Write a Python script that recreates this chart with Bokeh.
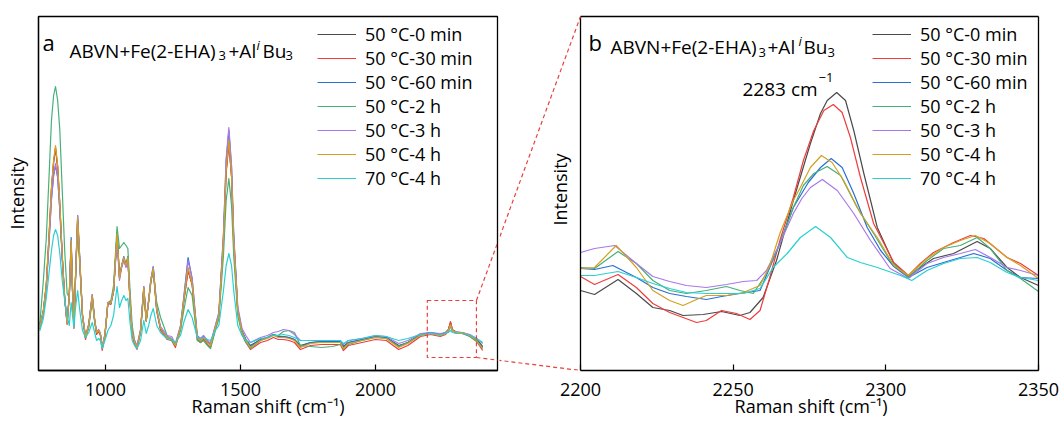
import math
from bokeh.plotting import figure
from bokeh.models import (Range1d, FixedTicker, Legend, LegendItem, Label, Arrow, BoxAnnotation,
                          LinearAxis, Span)
from bokeh.layouts import row
from bokeh.embed import file_html
from bokeh.resources import INLINE

FONT = "Open Sans"

SERIES = ["50 °C-0 min", "50 °C-30 min", "50 °C-60 min", "50 °C-2 h", "50 °C-3 h", "50 °C-4 h", "70 °C-4 h"]
COLORS = ["#4a4a4a", "#f03c3c", "#2a6fd6", "#45b078", "#a978e8", "#d4a020", "#2ad0d0"]
X_LABEL = "Raman shift (cm⁻¹)"

# ---------------- left panel: full spectra ----------------
L_X = [750, 757, 770, 781, 792, 800, 808, 815, 823, 831, 840, 849, 858, 866, 873, 878, 883, 890, 897, 905,
       915, 926, 938, 951, 960, 967, 975, 981, 988, 998, 1009, 1020, 1030, 1043, 1052, 1060, 1068, 1076, 1083, 1091,
       1099, 1108, 1117, 1130, 1142, 1151, 1160, 1168, 1177, 1190, 1204, 1215, 1228, 1245, 1259, 1278, 1290, 1306, 1321, 1340,
       1352, 1363, 1378, 1389, 1407, 1420, 1437, 1447, 1457, 1467, 1475, 1490, 1506, 1520, 1537, 1574, 1600, 1622, 1640, 1659,
       1680, 1700, 1722, 1760, 1800, 1840, 1870, 1881, 1900, 1950, 2000, 2040, 2086, 2120, 2167, 2204, 2240, 2260, 2270, 2278,
       2285, 2300, 2321, 2350, 2375, 2397]

L_ORANGE = [45, 43, 60, 87, 140, 183, 210, 225, 205, 167, 115, 73, 47, 75, 130, 80, 43, 100, 153, 110,
            55, 33, 45, 75, 50, 38, 40, 37, 22, 35, 68, 67, 80, 137, 93, 105, 113, 105, 113, 70,
            37, 28, 23, 40, 83, 50, 70, 90, 102, 60, 42, 38, 33, 32, 25, 43, 70, 103, 87, 33,
            30, 33, 28, 25, 43, 55, 130, 200, 230, 195, 130, 60, 38, 30, 23, 30, 32, 35, 33, 33,
            32, 30, 23, 27, 28, 28, 28, 22, 27, 30, 33, 32, 23, 27, 35, 37, 35, 37, 40, 46,
            40, 38, 38, 35, 30, 22]
L_BLACK = [46, 44, 60, 86, 138, 181, 208, 222, 203, 165, 114, 73, 48, 75, 128, 80, 44, 99, 150, 108,
           55, 34, 45, 74, 50, 38, 40, 37, 23, 35, 67, 67, 79, 135, 93, 104, 112, 104, 112, 70,
           37, 28, 24, 40, 82, 50, 70, 89, 101, 60, 42, 38, 33, 32, 26, 43, 69, 100, 86, 33,
           30, 33, 28, 26, 43, 55, 129, 198, 228, 194, 129, 60, 39, 31, 25, 31, 33, 36, 34, 34,
           33, 31, 25, 28, 29, 29, 29, 24, 28, 31, 34, 33, 25, 28, 36, 38, 36, 38, 41, 48,
           41, 38, 38, 35, 31, 24]
L_RED = [44, 42, 59, 86, 139, 182, 209, 223, 204, 166, 114, 72, 46, 74, 128, 79, 42, 99, 150, 108,
         54, 31, 44, 74, 49, 36, 39, 35, 20, 34, 67, 66, 79, 136, 92, 104, 112, 104, 112, 69,
         35, 26, 21, 39, 82, 49, 69, 89, 101, 59, 40, 36, 31, 30, 23, 42, 69, 100, 86, 31,
         28, 31, 26, 23, 42, 54, 129, 199, 226, 194, 129, 59, 36, 28, 21, 28, 30, 33, 31, 31,
         30, 28, 21, 25, 26, 26, 26, 20, 25, 28, 31, 30, 21, 25, 34, 36, 34, 36, 40, 49,
         40, 37, 37, 34, 29, 20]
L_BLUE = [45, 43, 58, 84, 134, 172, 195, 205, 193, 160, 112, 72, 47, 76, 133, 81, 44, 101, 155, 111,
          55, 33, 46, 76, 51, 38, 40, 37, 22, 35, 68, 67, 80, 138, 94, 105, 114, 106, 114, 71,
          37, 28, 23, 40, 84, 50, 70, 91, 104, 61, 42, 38, 33, 32, 25, 44, 73, 113, 92, 34,
          31, 34, 29, 26, 44, 57, 135, 209, 240, 203, 135, 62, 39, 31, 24, 31, 33, 36, 34, 34,
          33, 31, 24, 28, 29, 29, 29, 23, 28, 31, 34, 33, 24, 28, 36, 38, 36, 38, 40, 45,
          40, 38, 38, 35, 30, 23]
L_GREEN = [48, 47, 90, 133, 200, 250, 275, 284, 270, 240, 180, 120, 77, 73, 120, 85, 50, 100, 143, 105,
           55, 33, 43, 70, 48, 38, 40, 37, 22, 37, 68, 70, 85, 144, 122, 125, 128, 125, 122, 80,
           45, 30, 23, 38, 78, 50, 68, 88, 100, 68, 53, 45, 35, 30, 25, 40, 60, 83, 75, 30,
           28, 30, 25, 22, 40, 52, 115, 170, 192, 165, 115, 55, 36, 28, 22, 30, 33, 36, 35, 39,
           40, 38, 25, 24, 23, 24, 26, 22, 26, 30, 33, 32, 24, 28, 35, 37, 35, 37, 39, 44,
           40, 38, 38, 34, 29, 22]
L_PURPLE = [46, 44, 57, 82, 132, 170, 195, 207, 193, 160, 112, 72, 48, 74, 128, 80, 45, 102, 155, 112,
            56, 35, 46, 76, 51, 39, 41, 38, 24, 36, 68, 68, 80, 130, 90, 103, 110, 103, 110, 70,
            38, 30, 25, 41, 84, 52, 71, 91, 104, 62, 44, 40, 35, 34, 27, 45, 72, 110, 92, 35,
            32, 35, 30, 27, 45, 58, 137, 212, 243, 205, 137, 64, 42, 35, 28, 33, 35, 38, 39, 41,
            40, 36, 30, 30, 30, 30, 30, 26, 30, 32, 35, 34, 27, 30, 37, 38, 37, 38, 40, 44,
            40, 39, 38, 36, 32, 27]
L_CYAN = [40, 40, 52, 73, 100, 120, 135, 141, 135, 117, 90, 70, 55, 45, 68, 55, 43, 65, 80, 60,
          40, 33, 38, 48, 38, 30, 32, 30, 22, 30, 40, 45, 55, 84, 63, 70, 75, 70, 72, 48,
          30, 25, 22, 30, 50, 37, 45, 55, 62, 45, 38, 35, 32, 31, 28, 35, 48, 61, 53, 33,
          32, 33, 31, 30, 40, 45, 80, 105, 117, 105, 80, 45, 35, 30, 28, 32, 33, 35, 35, 36,
          35, 33, 30, 30, 30, 30, 30, 27, 30, 32, 35, 34, 30, 32, 36, 37, 36, 37, 38, 40,
          38, 37, 37, 35, 32, 28]

L_SERIES = [L_BLACK, L_RED, L_BLUE, L_GREEN, L_PURPLE, L_ORANGE, L_CYAN]

# ---------------- right panel: zoom 2200-2350 ----------------
R_BLACK_X = [2200, 2204.6, 2212.3, 2218.3, 2223.7, 2229.2, 2233.6, 2240.2, 2246.2, 2252.2, 2255.5, 2259.8, 2264.2,
             2269.7, 2275.3, 2278.6, 2280.8, 2283.9, 2286.8, 2289.5, 2292.8, 2297.2, 2302.6, 2307.4, 2311.3, 2315.6,
             2322.2, 2329.9, 2334.2, 2339.7, 2344.1, 2350]
R_BLACK_Y = [80, 76, 91, 77, 63, 60, 55, 56, 59, 55, 58, 73, 110, 170, 227, 257, 270, 278, 270, 240, 197, 143, 107,
             94, 103, 112, 117, 129, 122, 103, 93, 85]
R_RED_X = [2200, 2204.6, 2212.3, 2218.3, 2223.7, 2229.2, 2233.6, 2238, 2241.2, 2246.2, 2251.1, 2255.5, 2258.8, 2262,
           2265.3, 2269.7, 2273, 2276.4, 2279.7, 2282.8, 2285.7, 2288.4, 2291.7, 2296, 2302.6, 2307.4, 2311.3, 2315.6,
           2322.2, 2327.7, 2332.1, 2339.7, 2344.1, 2350]
R_RED_Y = [94, 86, 96, 83, 67, 58, 53, 48, 50, 60, 57, 51, 60, 93, 130, 173, 210, 240, 260, 266, 258, 233, 193, 147,
           108, 95, 107, 118, 128, 135, 132, 113, 107, 95]
R_BLUE_X = [2200, 2204.6, 2210.6, 2218.3, 2223.7, 2229.2, 2234.7, 2241.2, 2246.2, 2252.2, 2258.8, 2262, 2265.3, 2269.7,
            2274.6, 2278.6, 2282.1, 2285.7, 2289.5, 2293.9, 2298.3, 2302.6, 2307.4, 2313.5, 2318.9, 2324.4, 2328.8,
            2334.2, 2339.7, 2344.1, 2350]
R_BLUE_Y = [102, 101, 105, 93, 83, 77, 74, 71, 74, 77, 80, 103, 127, 163, 188, 203, 212, 203, 177, 143, 120, 104, 93,
            103, 108, 113, 117, 112, 100, 93, 92]
R_GREEN_X = [2200, 2204.6, 2212.3, 2218.3, 2223.7, 2229.2, 2234.7, 2241.2, 2247.8, 2252.2, 2256.6, 2260.9, 2265.3,
             2269.7, 2273, 2276.4, 2280.8, 2285.2, 2290.6, 2296, 2301.4, 2307.4, 2313.5, 2318.9, 2324.4, 2329.9,
             2334.2, 2339.7, 2344.1, 2350]
R_GREEN_Y = [103, 102, 119, 107, 90, 80, 77, 80, 84, 80, 77, 97, 127, 163, 185, 197, 204, 195, 163, 137, 110, 93, 110,
             122, 125, 133, 122, 100, 92, 79]
R_PURPLE_X = [2200, 2204.6, 2211.2, 2218.3, 2223.7, 2229.2, 2234.7, 2241.2, 2247.8, 2253.3, 2257.7, 2260.9, 2265.3,
              2269.7, 2272.5, 2275.3, 2279.2, 2284.1, 2289.5, 2295, 2301.4, 2307.4, 2313.5, 2318.9, 2324.4, 2329.3,
              2334.2, 2339.7, 2344.1, 2350]
R_PURPLE_Y = [118, 122, 125, 107, 94, 89, 85, 83, 86, 89, 90, 100, 127, 157, 172, 183, 191, 180, 157, 130, 102, 92,
              107, 113, 117, 121, 113, 103, 100, 95]
R_ORANGE_X = [2200, 2204.6, 2211.7, 2218.3, 2223.7, 2229.2, 2233.6, 2238, 2241.2, 2247.8, 2253.3, 2258.8, 2262, 2265.3,
              2269.7, 2272, 2275.3, 2278.9, 2282.4, 2286.2, 2291.7, 2297.2, 2302.6, 2307.4, 2313.5, 2318.9, 2324.4,
              2329.3, 2334.2, 2339.7, 2344.1, 2350]
R_ORANGE_Y = [102, 103, 125, 103, 80, 70, 65, 71, 75, 75, 78, 85, 105, 137, 170, 183, 203, 215, 208, 190, 157, 133,
              105, 95, 112, 123, 130, 135, 127, 113, 105, 92]
R_CYAN_X = [2200, 2204.6, 2212.3, 2218.3, 2223.7, 2229.2, 2234.7, 2241.2, 2247.8, 2253.3, 2258.8, 2263.1, 2267.7,
            2272, 2277, 2281.9, 2287.4, 2291.7, 2297.2, 2304.8, 2308.5, 2313.5, 2318.9, 2324.4, 2329.9, 2334.2,
            2339.7, 2344.1, 2350]
R_CYAN_Y = [95, 95, 99, 93, 87, 82, 78, 77, 77, 77, 82, 103, 117, 133, 144, 133, 113, 108, 103, 95, 90, 100, 107, 112,
            113, 108, 98, 93, 90]

R_SERIES = [(R_BLACK_X, R_BLACK_Y), (R_RED_X, R_RED_Y), (R_BLUE_X, R_BLUE_Y), (R_GREEN_X, R_GREEN_Y),
            (R_PURPLE_X, R_PURPLE_Y), (R_ORANGE_X, R_ORANGE_Y), (R_CYAN_X, R_CYAN_Y)]

L_TICKS = [1000, 1500, 2000]
R_TICKS = [2200, 2250, 2300, 2350]
L_XRANGE = (752, 2452)
R_PANEL = (2200, 2350)
Y_RANGE = (0, 354)
ZOOM_BOX = (2192, 2374, 13, 70)   # left, right, bottom, top (data units of panel a)
PEAK_LABEL = "2283 cm"

# ---------- layout geometry (page pixels; Bokeh's page has no body margin) ----------
H = 432
TOP = 16
FRAME_H = 354
BOTTOM = H - TOP - FRAME_H
LA_LEFT, LA_FRAME_W, LA_RIGHT = 38, 459, 2
B_FIG_X0 = LA_LEFT + LA_FRAME_W + LA_RIGHT          # page x where figure b starts (= its frame start)
B_PANEL_PX = (580, 1038)                            # page x of panel b's visible box
B_RIGHT = 21
B_W = B_PANEL_PX[1] - B_FIG_X0 + B_RIGHT
B_PPU = (B_PANEL_PX[1] - B_PANEL_PX[0]) / (R_PANEL[1] - R_PANEL[0])
R_XRANGE = (R_PANEL[0] - (B_PANEL_PX[0] - B_FIG_X0) / B_PPU, R_PANEL[1])
A_X0 = LA_LEFT
A_PPU = LA_FRAME_W / (L_XRANGE[1] - L_XRANGE[0])
# panel b's axis title is centred on the whole frame of figure b; non-breaking spaces in front of it
# move the visible words to the centre of panel b's box
PAD = "\u00a0" * 18
RED = "#e8413c"


def a_data(px):
    return L_XRANGE[0] + (px - A_X0) / A_PPU


def b_data(px):
    return R_XRANGE[0] + (px - B_FIG_X0) / B_PPU


def style_axis(ax):
    ax.axis_line_color = "black"
    ax.axis_line_width = 1.3
    ax.major_tick_in = 6
    ax.major_tick_out = 0
    ax.minor_tick_line_color = None
    ax.major_tick_line_color = "black"
    ax.major_tick_line_width = 1.2
    ax.major_label_text_font = FONT
    ax.major_label_text_font_size = "18px"
    ax.major_label_text_color = "black"
    ax.axis_label_text_font = FONT
    ax.axis_label_text_font_size = "18px"
    ax.axis_label_text_font_style = "normal"
    ax.axis_label_text_color = "black"


def base_style(p):
    p.xgrid.visible = False
    p.ygrid.visible = False
    p.background_fill_color = "white"
    p.border_fill_color = "white"
    p.xaxis.major_label_standoff = 12
    p.xaxis.axis_label_standoff = -5


def add_legend(p, renderers, x):
    items = [LegendItem(label=s, renderers=[r]) for s, r in zip(SERIES, renderers)]
    lg = Legend(items=items, location=(x, 180), glyph_width=39, glyph_height=20, label_height=20,
                label_standoff=9, spacing=0, padding=0, margin=0, border_line_alpha=0,
                background_fill_alpha=0, label_text_font=FONT, label_text_font_size="18px",
                label_text_color="black")
    p.add_layout(lg)


def title(p, xs, ys, letter):
    frags = [(letter, xs[0], ys[0], "22px", "normal"),
             ("ABVN+Fe(2-EHA)", xs[1], ys[1], "19px", "normal"),
             ("3", xs[2], ys[2], "13px", "normal"),
             ("+Al", xs[3], ys[1], "19px", "normal"),
             ("i", xs[4], ys[3], "13px", "italic"),
             ("Bu", xs[5], ys[1], "19px", "normal"),
             ("3", xs[6], ys[2], "13px", "normal")]
    for t, x, y, fs, st in frags:
        p.add_layout(Label(x=x, y=y, text=t, text_font=FONT, text_font_size=fs, text_font_style=st,
                           text_color="black", text_baseline="alphabetic", text_align="left"))


# ---------------- panel a ----------------
pa = figure(width=LA_LEFT + LA_FRAME_W + LA_RIGHT, height=H, x_range=Range1d(*L_XRANGE),
            y_range=Range1d(*Y_RANGE), output_backend="svg", toolbar_location=None,
            min_border_left=LA_LEFT, min_border_right=LA_RIGHT, min_border_top=TOP, min_border_bottom=BOTTOM)
base_style(pa)
pa.xaxis.axis_label = X_LABEL
pa.xaxis.ticker = FixedTicker(ticks=L_TICKS)
pa.yaxis.ticker = FixedTicker(ticks=[])
style_axis(pa.xaxis[0])
style_axis(pa.yaxis[0])
pa.yaxis.axis_label = "Intensity"
pa.yaxis.axis_label_standoff = 10
pa.outline_line_color = "black"
pa.outline_line_width = 1.3
ra = [pa.line(L_X, ys, line_color=c, line_width=1.2, line_join="round") for ys, c in zip(L_SERIES, COLORS)]
add_legend(pa, ra, 317 - A_X0)
title(pa, [a_data(px) for px in (42, 69, 218, 228, 256, 262, 285)], [329, 319.3, 315, 326], "a")
pa.add_layout(BoxAnnotation(left=ZOOM_BOX[0], right=ZOOM_BOX[1], bottom=ZOOM_BOX[2], top=ZOOM_BOX[3],
                            fill_alpha=0, line_color=RED, line_alpha=1.0, line_dash="4 3", line_width=1.2))

# connectors: zoom box right corners -> panel b box left corners
box_px = A_X0 + (ZOOM_BOX[1] - L_XRANGE[0]) * A_PPU
for yb, yt in ((ZOOM_BOX[3], Y_RANGE[1]), (ZOOM_BOX[2], Y_RANGE[0])):
    px_end = A_X0 + LA_FRAME_W + 2
    f = (px_end - box_px) / (B_PANEL_PX[0] - box_px)
    pa.add_layout(Arrow(end=None, x_start=ZOOM_BOX[1], y_start=yb, x_end=a_data(px_end),
                        y_end=yb + (yt - yb) * f, line_color=RED, line_dash="4 3", line_width=1.2))

# ---------------- panel b ----------------
pb = figure(width=B_W, height=H, x_range=Range1d(*R_XRANGE), y_range=Range1d(*Y_RANGE),
            output_backend="svg", toolbar_location=None,
            min_border_left=0, min_border_right=B_RIGHT, min_border_top=TOP, min_border_bottom=BOTTOM)
base_style(pb)
pb.xaxis.axis_label = PAD + X_LABEL
pb.xaxis.ticker = FixedTicker(ticks=R_TICKS)
pb.xaxis.bounds = R_PANEL
style_axis(pb.xaxis[0])
pb.yaxis.visible = False
pb.outline_line_color = None
top_ax = LinearAxis(ticker=FixedTicker(ticks=[]), bounds=R_PANEL, major_label_text_font_size="0px",
                    axis_line_color="black", axis_line_width=1.3, minor_tick_line_color=None,
                    major_tick_line_color=None)
pb.add_layout(top_ax, "above")
right_ax = LinearAxis(ticker=FixedTicker(ticks=[]), major_label_text_font_size="0px",
                      axis_line_color="black", axis_line_width=1.3, minor_tick_line_color=None,
                      major_tick_line_color=None)
pb.add_layout(right_ax, "right")
pb.add_layout(Span(location=R_PANEL[0], dimension="height", line_color="black", line_width=1.3))
pb.add_layout(Label(x=b_data(559), y=181, text="Intensity", angle=math.pi / 2, text_font=FONT,
                    text_font_size="18px", text_color="black", text_align="center", text_baseline="middle"))

rb = [pb.line(x, y, line_color=c, line_width=1.2, line_join="round") for (x, y), c in zip(R_SERIES, COLORS)]
add_legend(pb, rb, 872 - B_FIG_X0)
title(pb, [b_data(px) for px in (588, 610, 758, 767, 798, 803, 827)], [329, 324, 318.3, 330], "b")
pb.add_layout(Label(x=b_data(742), y=282, text=PEAK_LABEL, text_font=FONT, text_font_size="19px",
                    text_color="black", text_baseline="alphabetic"))
pb.add_layout(Label(x=b_data(818), y=293, text="−1", text_font=FONT, text_font_size="13px",
                    text_color="black", text_baseline="alphabetic"))
for yb, yt in ((ZOOM_BOX[3], Y_RANGE[1]), (ZOOM_BOX[2], Y_RANGE[0])):
    px_start = B_FIG_X0 - 2
    f = (px_start - box_px) / (B_PANEL_PX[0] - box_px)
    pb.add_layout(Arrow(end=None, x_start=b_data(px_start), y_start=yb + (yt - yb) * f,
                        x_end=R_PANEL[0], y_end=yt, line_color=RED, line_dash="4 3", line_width=1.2))

layout = row(pa, pb)
open("out.html", "w").write(file_html(layout, INLINE))
